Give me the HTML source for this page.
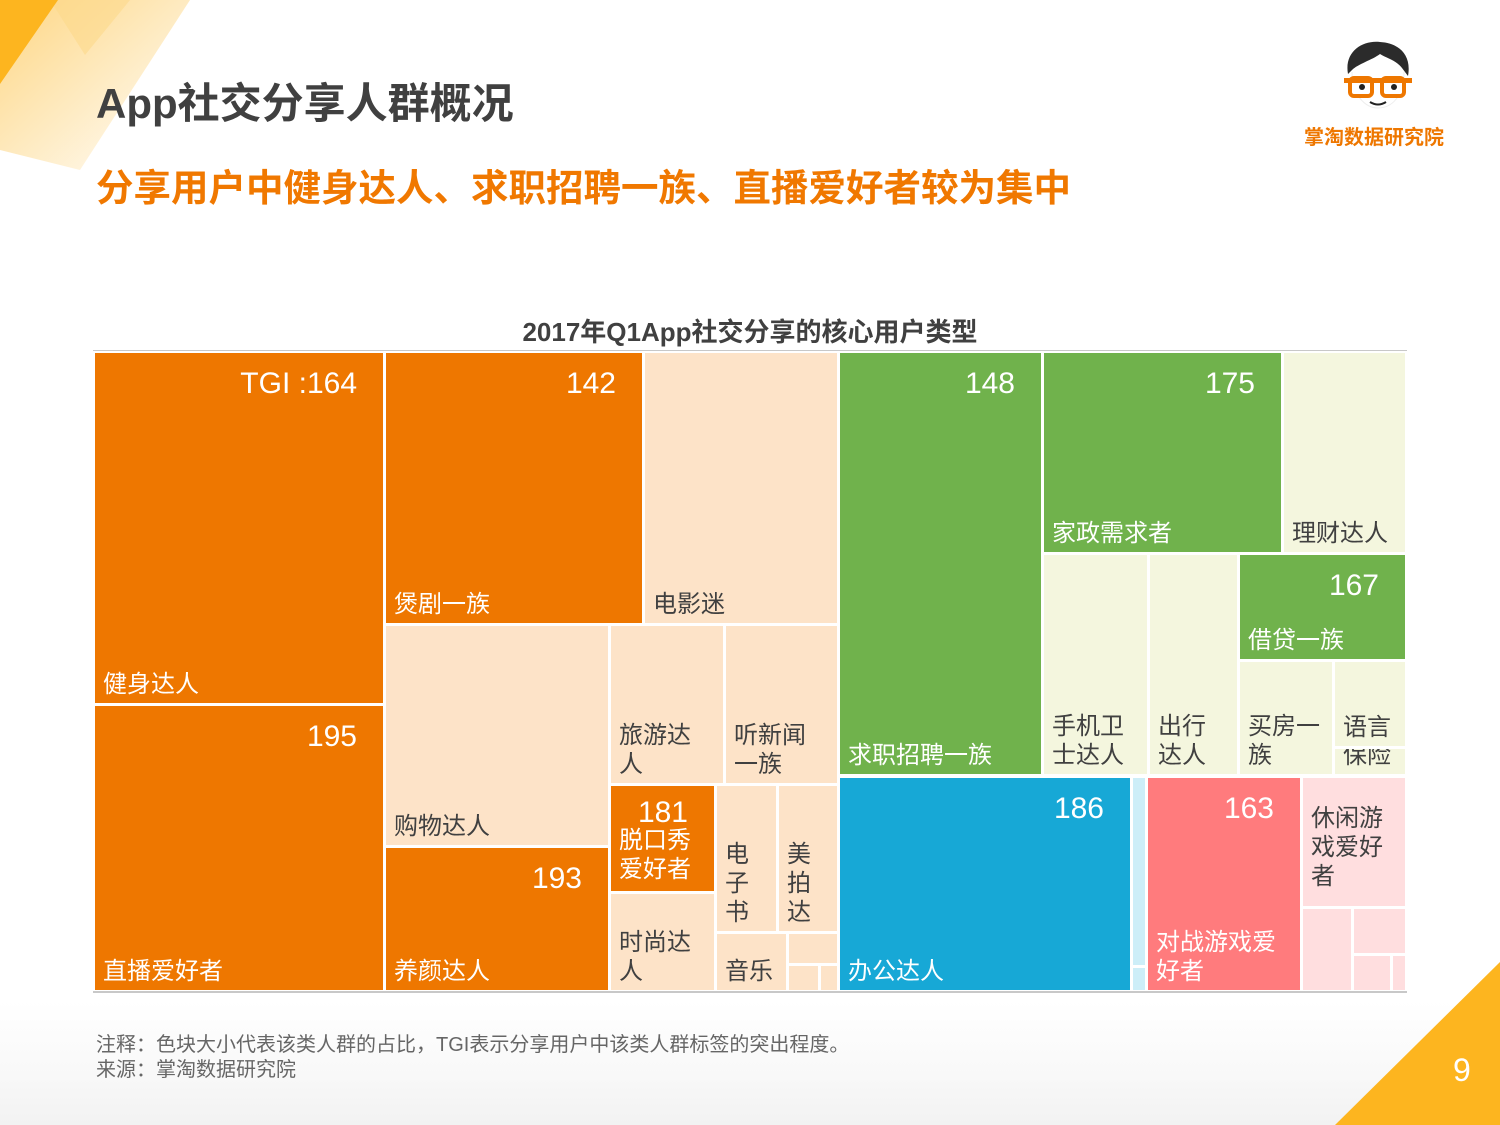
<!DOCTYPE html>
<html><head><meta charset="utf-8">
<style>
html,body{margin:0;padding:0}
body{width:1500px;height:1125px;position:relative;overflow:hidden;background:#fff;font-family:"Liberation Sans","Noto Sans CJK SC",sans-serif}
.abs{position:absolute}
.cell{position:absolute;box-sizing:border-box;overflow:hidden}
.tgi{position:absolute;top:14px;right:26px;font-size:30px;color:#fff;line-height:34px}
.nm{position:absolute;left:8px;bottom:4px;font-size:24px;line-height:29px;white-space:nowrap}
.nmt{position:absolute;left:8px;top:26px;font-size:24px;line-height:29px;white-space:nowrap}
.o{background:#EE7700;color:#fff}.p{background:#FDE3C8;color:#404040}.g{background:#70B24C;color:#fff}.c{background:#F4F6DE;color:#404040}
.b{background:#17A8D6;color:#fff}.lb{background:#CDEEF8;color:#404040}.r{background:#FF7B7D;color:#fff}.k{background:#FFDEDF;color:#404040}
</style></head><body>
<svg class="abs" style="left:0;top:0" width="1500" height="1125">
<defs>
<linearGradient id="g1" x1="0" y1="0" x2="1" y2="1"><stop offset="0" stop-color="#FDB51F" stop-opacity="0.55"/><stop offset="1" stop-color="#FDB51F" stop-opacity="0"/></linearGradient>
<linearGradient id="g2" x1="0" y1="0" x2="0" y2="1"><stop offset="0" stop-color="#f6f6f6" stop-opacity="0"/><stop offset="1" stop-color="#f2f2f2"/></linearGradient>
</defs>
<rect x="0" y="1000" width="1500" height="125" fill="url(#g2)"/>
<polygon points="0,0 190,0 80,170 0,150" fill="url(#g1)"/>
<polygon points="50,0 130,0 85,55" fill="#FCD88A" opacity="0.6"/>
<polygon points="0,0 58,0 0,84" fill="#FDB51F"/>
<polygon points="1335,1125 1500,962 1500,1125" fill="#FDB51F"/>
</svg>
<div class="abs" style="left:96px;top:70px;font-size:42px;font-weight:bold;color:#404040">App社交分享人群概况</div>
<div class="abs" style="left:96px;top:157px;font-size:37.5px;font-weight:bold;color:#F07800">分享用户中健身达人、求职招聘一族、直播爱好者较为集中</div>
<svg class="abs" style="left:1340px;top:40px" width="76" height="72" viewBox="0 0 76 72">
<path d="M8,34 C4,12 22,0 40,2 C58,3 72,14 68,36 L62,28 C56,20 46,18 40,14 C32,20 18,24 12,30 Z" fill="#2b2b2b"/>
<path d="M12,32 C12,56 26,68 38,68 C52,68 64,56 64,32" fill="#fff" stroke="#eee"/>
<rect x="10" y="38" width="22" height="18" rx="4" fill="#fff" stroke="#EE7700" stroke-width="4"/>
<rect x="42" y="38" width="22" height="18" rx="4" fill="#fff" stroke="#EE7700" stroke-width="4"/>
<rect x="4" y="38" width="68" height="5" fill="#EE7700"/>
<circle cx="22" cy="47" r="3" fill="#222"/><circle cx="54" cy="47" r="3" fill="#222"/>
<path d="M30,62 Q38,67 46,62" stroke="#222" stroke-width="2" fill="none"/>
</svg>
<div class="abs" style="left:1304px;top:121px;font-size:20px;font-weight:bold;color:#EE7700">掌淘数据研究院</div>
<div class="abs" style="left:0;width:1500px;top:312px;text-align:center;font-size:26px;font-weight:bold;color:#404040">2017年Q1App社交分享的核心用户类型</div>
<div class="abs" style="left:93px;top:350px;width:1314px;height:1px;background:#c8c8c8"></div>
<div class="abs" style="left:93px;top:991px;width:1314px;height:2px;background:#c8c8c8"></div>

<div id="treemapBox">
<div id="c0" class="cell o" style="left:95px;top:353px;width:288px;height:350px"><div class="tgi">TGI :164</div><div class="nm">健身达人</div></div>
<div id="c1" class="cell o" style="left:95px;top:706px;width:288px;height:284px"><div class="tgi">195</div><div class="nm">直播爱好者</div></div>
<div id="c2" class="cell o" style="left:386px;top:353px;width:256px;height:270px"><div class="tgi">142</div><div class="nm">煲剧一族</div></div>
<div id="c3" class="cell p" style="left:645px;top:353px;width:192px;height:270px"><div class="nm">电影迷</div></div>
<div id="c4" class="cell p" style="left:386px;top:626px;width:222px;height:219px"><div class="nm">购物达人</div></div>
<div id="c5" class="cell o" style="left:386px;top:848px;width:222px;height:142px"><div class="tgi">193</div><div class="nm">养颜达人</div></div>
<div id="c6" class="cell p" style="left:611px;top:626px;width:112px;height:157px"><div class="nm">旅游达<br>人</div></div>
<div id="c7" class="cell p" style="left:726px;top:626px;width:111px;height:157px"><div class="nm">听新闻<br>一族</div></div>
<div id="c8" class="cell o" style="left:611px;top:786px;width:103px;height:105px"><div class="tgi" style="top:10px">181</div><div class="nmt" style="top:40px">脱口秀<br>爱好者</div></div>
<div id="c9" class="cell p" style="left:611px;top:894px;width:103px;height:96px"><div class="nm">时尚达<br>人</div></div>
<div id="c10" class="cell p" style="left:717px;top:786px;width:59px;height:145px"><div class="nm">电<br>子<br>书</div></div>
<div id="c11" class="cell p" style="left:779px;top:786px;width:58px;height:145px"><div class="nm">美<br>拍<br>达</div></div>
<div id="c12" class="cell p" style="left:717px;top:934px;width:69px;height:56px"><div class="nm">音乐</div></div>
<div id="c13" class="cell p" style="left:789px;top:934px;width:48px;height:29px"></div>
<div id="c14" class="cell p" style="left:789px;top:966px;width:29px;height:24px"></div>
<div id="c15" class="cell p" style="left:821px;top:966px;width:16px;height:24px"></div>
<div id="c16" class="cell g" style="left:840px;top:353px;width:201px;height:421px"><div class="tgi">148</div><div class="nm">求职招聘一族</div></div>
<div id="c17" class="cell g" style="left:1044px;top:353px;width:237px;height:199px"><div class="tgi">175</div><div class="nm">家政需求者</div></div>
<div id="c18" class="cell c" style="left:1284px;top:353px;width:121px;height:199px"><div class="nm">理财达人</div></div>
<div id="c19" class="cell c" style="left:1044px;top:555px;width:103px;height:219px"><div class="nm">手机卫<br>士达人</div></div>
<div id="c20" class="cell c" style="left:1150px;top:555px;width:87px;height:219px"><div class="nm">出行<br>达人</div></div>
<div id="c21" class="cell g" style="left:1240px;top:555px;width:165px;height:104px"><div class="tgi">167</div><div class="nm">借贷一族</div></div>
<div id="c22" class="cell c" style="left:1240px;top:662px;width:92px;height:112px"><div class="nm">买房一<br>族</div></div>
<div id="c23" class="cell c" style="left:1335px;top:662px;width:70px;height:84px"><div class="nm">语言</div></div>
<div id="c24" class="cell c" style="left:1335px;top:749px;width:70px;height:25px"><div class="nm">保险</div></div>
<div id="c25" class="cell b" style="left:840px;top:778px;width:290px;height:212px"><div class="tgi">186</div><div class="nm">办公达人</div></div>
<div id="c26" class="cell lb" style="left:1133px;top:778px;width:12px;height:187px"></div>
<div id="c27" class="cell lb" style="left:1133px;top:968px;width:12px;height:22px"></div>
<div id="c28" class="cell r" style="left:1148px;top:778px;width:152px;height:212px"><div class="tgi">163</div><div class="nm">对战游戏爱<br>好者</div></div>
<div id="c29" class="cell k" style="left:1303px;top:778px;width:102px;height:128px"><div class="nmt">休闲游<br>戏爱好<br>者</div></div>
<div id="c30" class="cell k" style="left:1303px;top:909px;width:48px;height:81px"></div>
<div id="c31" class="cell k" style="left:1354px;top:909px;width:51px;height:44px"></div>
<div id="c32" class="cell k" style="left:1354px;top:956px;width:36px;height:34px"></div>
<div id="c33" class="cell k" style="left:1393px;top:956px;width:12px;height:34px"></div>
</div>

<div class="abs" style="left:96px;top:1033px;font-size:20px;line-height:25px;color:#666">注释：色块大小代表该类人群的占比，TGI表示分享用户中该类人群标签的突出程度。<br>来源：掌淘数据研究院</div>
<div class="abs" style="left:1453px;top:1052px;font-size:32px;color:#fff">9</div>
<script>
var categories = ["健身达人", "直播爱好者", "煲剧一族", "电影迷", "购物达人", "养颜达人", "旅游达人", "听新闻一族", "脱口秀爱好者", "时尚达人", "电子书", "美拍达", "音乐", "", "", "", "求职招聘一族", "家政需求者", "理财达人", "手机卫士达人", "出行达人", "借贷一族", "买房一族", "语言", "保险", "办公达人", "", "", "对战游戏爱好者", "休闲游戏爱好者", "", "", "", ""];
var tgiValues = [164, 195, 142, 0, 0, 193, 0, 0, 181, 0, 0, 0, 0, 0, 0, 0, 148, 175, 0, 0, 0, 167, 0, 0, 0, 186, 0, 0, 163, 0, 0, 0, 0, 0];
var shares = [101, 82, 69, 52, 49, 32, 18, 18, 11, 10, 8.8, 8.6, 4, 1.5, 0.75, 0.4, 85, 47, 24, 23, 19.5, 17.4, 10.6, 6, 1.9, 62, 1.5, 1.3, 32.6, 13.3, 4, 2.3, 1.3, 0.5];
var layoutTree = ["h",
 ["h", ["v", "L0", "L1"], ["v", ["h", "L2", "L3"], ["h", ["v", "L4", "L5"], ["v", ["h", "L6", "L7"], ["h", ["v", "L8", "L9"], ["v", ["h", "L10", "L11"], ["h", "L12", ["v", "L13", ["h", "L14", "L15"]]]]]]]]],
 ["v",
  ["h", "L16", ["v", ["h", "L17", "L18"], ["h", "L19", "L20", ["v", "L21", ["h", "L22", ["v", "L23", "L24"]]]]]],
  ["h", "L25", ["v", "L26", "L27"], "L28", ["v", "L29", ["h", "L30", ["v", "L31", ["h", "L32", "L33"]]]]]]
 ]
];
try {
  var sumNode = function (n) {
    if (typeof n === "string") {
      return Number(shares[parseInt(n.slice(1), 10)]) || 0;
    }
    var s = 0;
    for (var k = 1; k < n.length; k++) {
      s += sumNode(n[k]);
    }
    return s;
  };
  var placeLeaf = function (i, x, y, w, h) {
    var el = document.getElementById("c" + i);
    if (!el) {
      return;
    }
    el.style.left = (x + 1) + "px";
    el.style.top = (y + 1) + "px";
    el.style.width = Math.max(0, w - 2) + "px";
    el.style.height = Math.max(0, h - 2) + "px";
    var t = el.querySelector(".tgi");
    if (t && tgiValues[i]) {
      t.textContent = (i === 0 ? "TGI :" : "") + tgiValues[i];
    }
  };
  var layNode = function (n, x, y, w, h) {
    if (typeof n === "string") {
      placeLeaf(parseInt(n.slice(1), 10), x, y, w, h);
      return;
    }
    var T = sumNode(n) || 1;
    var p = 0;
    for (var k = 1; k < n.length; k++) {
      var c = n[k];
      var f = sumNode(c) / T;
      if (n[0] === "h") {
        var x0 = Math.round(x + p * w);
        var x1 = Math.round(x + (p + f) * w);
        layNode(c, x0, y, x1 - x0, h);
      } else {
        var y0 = Math.round(y + p * h);
        var y1 = Math.round(y + (p + f) * h);
        layNode(c, x, y0, w, y1 - y0);
      }
      p += f;
    }
  };
  layNode(layoutTree, 94, 352, 1312, 640);
} catch (e) {}
</script>
</body></html>
